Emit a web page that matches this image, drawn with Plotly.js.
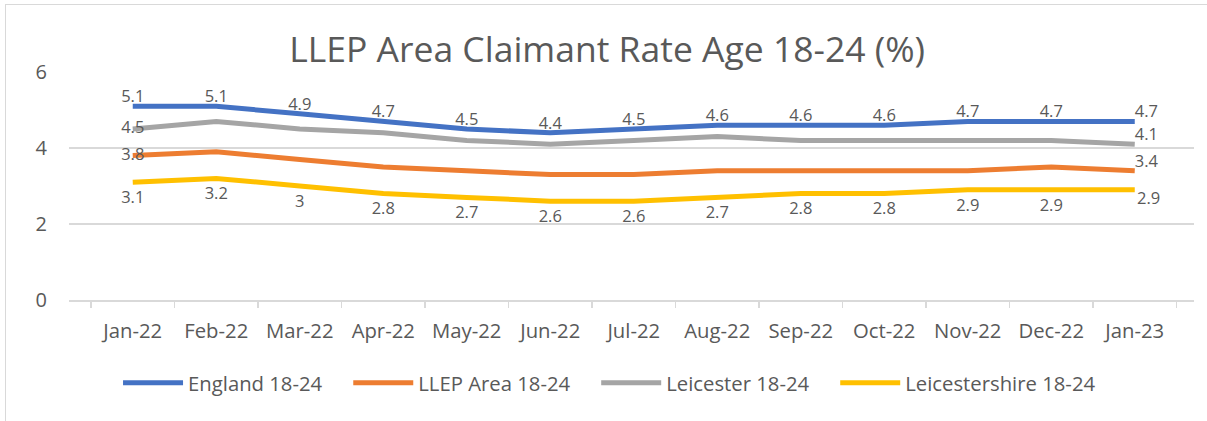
<!DOCTYPE html>
<html>
<head>
<meta charset="utf-8">
<script src="https://cdn.plot.ly/plotly-3.0.1.min.js"></script>
<style>
  html, body { margin: 0; padding: 0; background: #fff; }
  #wrap { position: relative; width: 1207px; height: 421px; overflow: hidden; }
  #chart { position: absolute; left: 0; top: 0; width: 1207px; height: 421px; }
  #frame { position: absolute; left: 5px; top: 4px; width: 1220px; height: 440px;
           border: 1px solid #d9d9d9; box-sizing: border-box; pointer-events: none; }
</style>
</head>
<body>
<div id="wrap"><div id="chart"></div><div id="frame"></div></div>
<script>
const months = ["Jan-22","Feb-22","Mar-22","Apr-22","May-22","Jun-22","Jul-22","Aug-22","Sep-22","Oct-22","Nov-22","Dec-22","Jan-23"];
const england = [5.1,5.1,4.9,4.7,4.5,4.4,4.5,4.6,4.6,4.6,4.7,4.7,4.7];
const llep = [3.8,3.9,3.7,3.5,3.4,3.3,3.3,3.4,3.4,3.4,3.4,3.5,3.4];
const leicester = [4.5,4.7,4.5,4.4,4.2,4.1,4.2,4.3,4.2,4.2,4.2,4.2,4.1];
const leicestershire = [3.1,3.2,3.0,2.8,2.7,2.6,2.6,2.7,2.8,2.8,2.9,2.9,2.9];
const seriesNames = ["England 18-24","LLEP Area 18-24","Leicester 18-24","Leicestershire 18-24"];

const FONT = "'Open Sans', 'Noto Sans', sans-serif";
const TXT = "#595959";
const last = months.length - 1;
const PAD = "\u00a0\u00a0\u00a0\u00a0";

function allLabels(v){ return v.map(String); }
function endLabels(v){ return v.map((x,i)=> (i===0||i===last) ? String(x) : ""); }

function mk(name, y, color, text, pos, msize){
  return {
    type: "scatter", mode: msize ? "lines+markers+text" : "lines+text",
    name: name + PAD,
    x: months, y: y,
    line: {color: color, width: 5, shape: "linear"},
    marker: {size: msize || 6, color: "rgba(0,0,0,0)", line: {width: 0}},
    text: text, textposition: pos,
    textfont: {family: FONT, size: 16.5, color: TXT},
    cliponaxis: false, hoverinfo: "skip"
  };
}

const data = [
  mk(seriesNames[0], england, "#4472C4", allLabels(england),
     months.map((m,i)=> i===last ? "top right" : "top center")),
  mk(seriesNames[1], llep, "#ED7D31", endLabels(llep),
     months.map((m,i)=> i===last ? "top right" : "middle center")),
  mk(seriesNames[2], leicester, "#A5A5A5", endLabels(leicester),
     months.map((m,i)=> i===last ? "top right" : "middle center")),
  mk(seriesNames[3], leicestershire, "#FFC000", allLabels(leicestershire),
     months.map((m,i)=> i===last ? "bottom right" : "bottom center"),
     months.map((m,i)=> i===last ? 2 : 12))
];

const layout = {
  width: 1207, height: 421,
  paper_bgcolor: "#ffffff", plot_bgcolor: "#ffffff",
  margin: {l: 69, r: 13, t: 72, b: 121},
  font: {family: FONT, color: TXT, size: 20},
  title: {text: "LLEP Area Claimant Rate Age 18-24 (%)",
          font: {family: FONT, size: 35.5, color: TXT},
          x: 0.503, xanchor: "center", xref: "container",
          y: 1 - 50/421, yanchor: "middle", yref: "container"},
  xaxis: {
    type: "category", tickson: "boundaries", ticks: "outside",
    ticklen: 6, tickcolor: "#d9d9d9", tickwidth: 1.5,
    showline: true, linecolor: "#d9d9d9", linewidth: 1.5,
    showgrid: false, zeroline: false,
    tickfont: {family: FONT, size: 20.3, color: TXT},
    ticklabelstandoff: 12,
    fixedrange: true
  },
  yaxis: {
    range: [0, 6], dtick: 2, tick0: 0,
    showgrid: true, gridcolor: "#d9d9d9", gridwidth: 1.5,
    zeroline: false, showline: false, ticks: "",
    tickfont: {family: FONT, size: 20, color: TXT},
    ticklabelstandoff: 21,
    fixedrange: true
  },
  showlegend: true,
  legend: {orientation: "h", x: 0.5137, xanchor: "center", xref: "container",
           y: 1 - 383/421, yanchor: "middle", yref: "container",
           font: {family: FONT, size: 20.3, color: TXT},
           itemwidth: 60, tracegroupgap: 0}
};
Plotly.newPlot("chart", data, layout, {displayModeBar: false, staticPlot: true});
</script>
</body>
</html>
